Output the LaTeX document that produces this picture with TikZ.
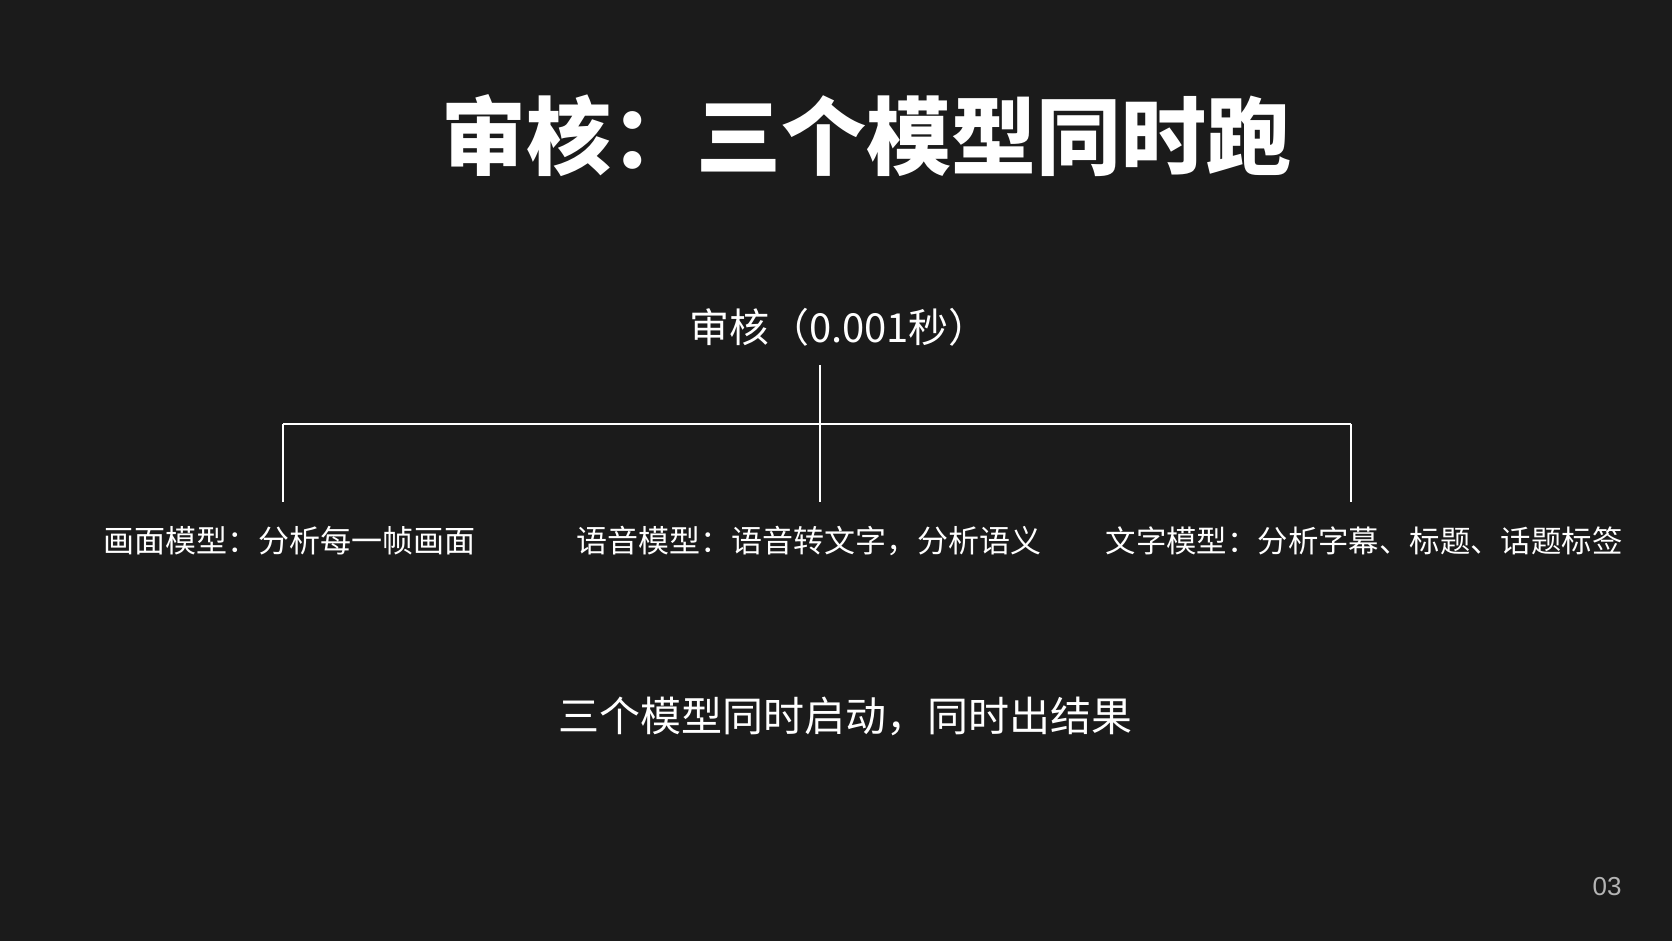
\documentclass[tikz,border=0pt]{standalone}
\usepackage{fontspec}
\usepackage{tikz}
\newfontfamily\cjk{Noto Sans CJK SC}
\newfontfamily\pagefont{Liberation Sans}
\definecolor{slidebg}{HTML}{1B1B1B}
\definecolor{pagegray}{HTML}{B4B4B4}
\tikzset{
	label/.style={text=white,inner sep=0pt,font=\cjk\fontsize{31}{31}\selectfont},
	branch/.style={draw=white,line width=2.2pt}
}

\begin{document}
\begin{tikzpicture}[x=1pt,y=-1pt]
	\fill[slidebg] (0,0) rectangle (1672,941);
	\useasboundingbox (0,0) rectangle (1672,941);
	
	\node[text=white,inner sep=0pt,font=\cjk\bfseries\fontsize{85}{85}\selectfont] (title) at (866,136) {审核：三个模型同时跑};
	\node[text=white,inner sep=0pt,font=\cjk\fontsize{40}{40}\selectfont] (root) at (839,327) {审核（0.001秒）};
	
	\node[label] (pic) at (289,541) {画面模型：分析每一帧画面};
	\node[label] (voice) at (809,541) {语音模型：语音转文字，分析语义};
	\node[label,font=\cjk\fontsize{30.4}{30.4}\selectfont] (text) at (1364,541) {文字模型：分析字幕、标题、话题标签};
	
	\coordinate (stem) at (820,365);
	\coordinate (hub) at (820,424);
	\foreach \n/\x in {L/283,M/820,R/1351}
	{
		\coordinate (top\n) at (\x,424);
		\coordinate (end\n) at (\x,502);
	}
	\draw[branch] (stem) -- (hub);
	\draw[branch] (topL) -- (topR);
	\foreach \n in {L,M,R}
		\draw[branch] (top\n) -- (end\n);
	
	\node[text=white,inner sep=0pt,font=\cjk\fontsize{41}{41}\selectfont] (summary) at (845,716) {三个模型同时启动，同时出结果};
	\node[text=pagegray,inner sep=0pt,font=\pagefont\fontsize{26}{26}\selectfont] (page) at (1607,887) {03};
\end{tikzpicture}
\end{document}
